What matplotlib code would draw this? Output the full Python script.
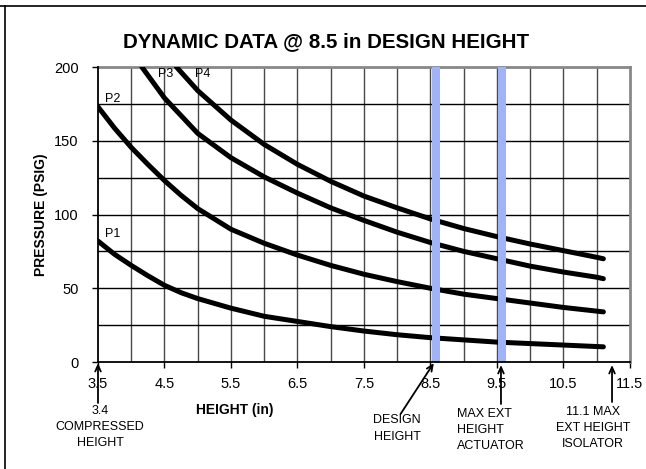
import matplotlib
matplotlib.use("Agg")
import matplotlib.pyplot as plt
import matplotlib.transforms as mtransforms
import numpy as np

plt.rcParams['font.family'] = ['Liberation Sans', 'DejaVu Sans']

# curve data (height in, pressure psig)
h_low = [3.5, 3.75, 4.0, 4.25, 4.5, 4.75, 5.0, 5.5, 6.0, 6.5, 7.0, 7.5, 8.0, 8.5, 9.0, 9.5, 10.0, 10.5, 11.0, 11.1]
p1 = [82, 73, 65.5, 58.5, 52, 47, 43, 36.5, 31, 27.5, 24, 21, 18.5, 16.5, 15, 13.5, 12.5, 11.5, 10.5, 10.3]
p2 = [173, 158.5, 145.5, 134, 123, 113, 104, 90, 80.5, 72.5, 65.5, 59.5, 54.5, 50, 46, 43, 40, 37, 34.5, 34]

h_p3 = [4.16, 4.5, 5.0, 5.5, 6.0, 6.5, 7.0, 7.5, 8.0, 8.5, 9.0, 9.5, 10.0, 10.5, 11.0, 11.1]
p3 = [200, 179, 155, 138.5, 125.5, 114.5, 104.5, 96, 88, 81, 75, 70, 65, 61, 57.5, 56.5]

h_p4 = [4.68, 5.0, 5.5, 6.0, 6.5, 7.0, 7.5, 8.0, 8.5, 9.0, 9.5, 10.0, 10.5, 11.0, 11.1]
p4 = [200, 184, 164, 147.5, 134, 122.5, 112.5, 104.5, 97, 90.5, 85, 80, 75.5, 71, 70]

curve_names = ['P1', 'P2', 'P3', 'P4']
name_pos = [(3.6, 87), (3.6, 178), (4.4, 195), (4.96, 195)]

band_centers = [8.58, 9.57]   # design height / max ext actuator
xticks = [3.5, 4.5, 5.5, 6.5, 7.5, 8.5, 9.5, 10.5, 11.5]
yticks = [0, 50, 100, 150, 200]

fig = plt.figure(figsize=(6.46, 4.69), dpi=100)
ax = fig.add_axes([0.1517, 0.2281, 0.8235, 0.629])

# frame lines around the whole picture (top and left only)
fig.add_artist(plt.Line2D([0, 1], [1 - 6 / 469, 1 - 6 / 469], color='black', lw=1.2, transform=fig.transFigure))
fig.add_artist(plt.Line2D([5 / 646, 5 / 646], [0, 1 - 6 / 469], color='black', lw=1.2, transform=fig.transFigure))

ax.set_xlim(3.5, 11.5)
ax.set_ylim(0, 200)

# grid
for gx in np.arange(4.0, 11.5, 0.5):
    ax.axvline(gx, color='#484848', lw=1.0, zorder=1)
for gy in np.arange(25, 200, 25):
    ax.axhline(gy, color='black', lw=1.0, zorder=1)

for h, p in [(h_low, p1), (h_low, p2), (h_p3, p3), (h_p4, p4)]:
    ax.plot(h, p, color='black', lw=3.6, solid_capstyle='round', solid_joinstyle='round', zorder=3)

for bc in band_centers:
    ax.axvspan(bc - 0.06, bc + 0.06, color='#9fb3f6', zorder=4, lw=0)

for name, (tx, ty) in zip(curve_names, name_pos):
    ax.text(tx, ty, name, fontsize=9, ha='left', va='center', zorder=5)

ax.set_xticks(xticks)
ax.set_xticklabels(['%g' % t for t in xticks])
ax.set_yticks(yticks)
ax.tick_params(axis='both', labelsize=10.5, length=4, width=1, color='black')
ax.tick_params(axis='x', pad=7)
ax.tick_params(axis='y', pad=10)

for s in ['top', 'right']:
    ax.spines[s].set_color('#888888')
    ax.spines[s].set_linewidth(2)
for s in ['left', 'bottom']:
    ax.spines[s].set_color('black')
    ax.spines[s].set_linewidth(1.3)
    ax.spines[s].set_zorder(6)

ax.set_ylabel('PRESSURE (PSIG)', fontsize=10, fontweight='bold', labelpad=4)

fig.text(0.505, 0.912, 'DYNAMIC DATA @ 8.5 in DESIGN HEIGHT', fontsize=14.8,
         fontweight='bold', ha='center', va='center')

# annotations under the axis: x in data, y in figure pixels from top
tr = mtransforms.blended_transform_factory(ax.transData, fig.transFigure)


def fy(ypx):
    return 1 - ypx / 469.0


ax.text(5.55, fy(410), 'HEIGHT (in)', transform=tr, fontsize=10, fontweight='bold',
        ha='center', va='center')

ax.text(3.53, fy(405), '3.4\nCOMPRESSED\nHEIGHT', transform=tr, fontsize=9,
        ha='center', va='top', linespacing=1.45)
ax.text(8.0, fy(414), 'DESIGN\nHEIGHT', transform=tr, fontsize=9,
        ha='center', va='top', linespacing=1.6)
ax.text(8.9, fy(408), 'MAX EXT\nHEIGHT\nACTUATOR', transform=tr, fontsize=9,
        ha='left', va='top', linespacing=1.45)
ax.text(10.94, fy(406), '11.1 MAX\nEXT HEIGHT\nISOLATOR', transform=tr, fontsize=9,
        ha='center', va='top', linespacing=1.45)

arrows = [((3.5, 403), (3.5, 363)),
          ((8.05, 414), (8.55, 363)),
          ((9.56, 404), (9.56, 365)),
          ((11.23, 402), (11.23, 365))]
for (x0, y0), (x1, y1) in arrows:
    ax.annotate('', xy=(x1, fy(y1)), xycoords=tr, xytext=(x0, fy(y0)), textcoords=tr,
                arrowprops=dict(arrowstyle='->,head_length=0.45,head_width=0.2',
                                color='black', lw=1.3, shrinkA=0, shrinkB=0),
                annotation_clip=False)

fig.savefig('out.png', dpi=100)
